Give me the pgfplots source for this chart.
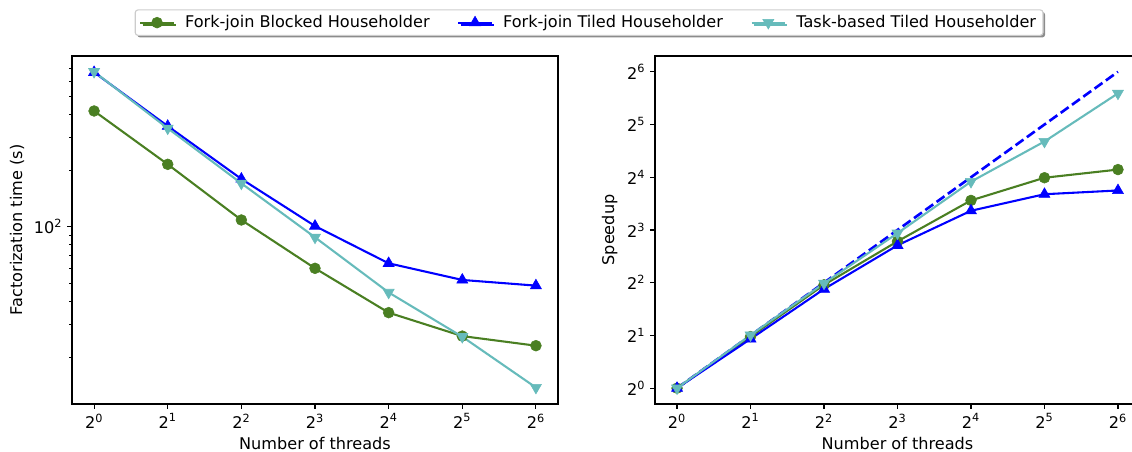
\documentclass[border=0pt]{standalone}
\usepackage{pgfplots}
\pgfplotsset{compat=1.18}
\usepackage{fontspec}
\setmainfont{DejaVu Sans}
\usetikzlibrary{shadows}
\definecolor{cgreen}{HTML}{4A7F22}
\definecolor{ccyan}{HTML}{66BBBB}
\definecolor{cblue}{HTML}{0000FF}
\newcommand{\fs}{\fontsize{11.6}{13.5}\selectfont}
\pgfplotsset{
  myaxis/.style={
    scale only axis,
    xmin=0.8123, xmax=78.79,
    xtick={1,2,4,8,16,32,64},
    xticklabels={2\textsuperscript{0},2\textsuperscript{1},2\textsuperscript{2},2\textsuperscript{3},2\textsuperscript{4},2\textsuperscript{5},2\textsuperscript{6}},
    xtick pos=lower, ytick pos=left,
    tick align=outside,
    major tick length=3.5pt, minor tick length=2pt,
    every tick/.style={black, line width=0.8pt},
    minor tick style={black, line width=0.6pt},
    axis line style={line width=0.8pt},
    font=\fs,
    tick label style={font=\fs},
    xlabel={Number of threads},
    xlabel style={yshift=0.5pt},
    legend image code/.code={\draw[mark repeat=2,mark phase=2] plot coordinates {(0cm,0cm) (0.42cm,0cm) (0.84cm,0cm)};},
  },
  sgreen/.style={cgreen, line width=1.5pt, mark=*, mark size=3.9pt, mark options={solid, line width=0.4pt}},
  sblue/.style={cblue, line width=1.5pt, mark=triangle*, mark size=4.6pt, mark options={solid, line width=0.4pt}},
  scyan/.style={ccyan, line width=1.5pt, mark=triangle*, mark size=4.6pt, mark options={solid, line width=0.4pt, rotate=180}},
}
\begin{document}
\begin{tikzpicture}
\begin{axis}[xmode=log, log basis x=2, ymode=log, log basis y=10, myaxis,
  at={(51.84pt,34.56pt)}, anchor=south west,
  width=349.92pt, height=250.56pt,
  ymin=11.27, ymax=818,
  ytick={100}, yticklabels={10\textsuperscript{2}},
  minor ytick={20,30,40,50,60,70,80,90,200,300,400,500,600,700},
  ylabel={Factorization time (s)},
  legend columns=3,
  legend cell align=left,
  legend style={at={(0.129,1.134)}, anchor=north west, draw=black!20, line width=0.8pt, fill=white, rounded corners=2pt,
    drop shadow={shadow xshift=1.5pt, shadow yshift=-1.5pt, fill=black!45, opacity=1},
    font=\fs, inner xsep=3pt, inner ysep=2pt,
    /tikz/every odd column/.append style={column sep=5.5pt},
    /tikz/every even column/.append style={column sep=18pt}},
]
\addplot[sgreen] coordinates {(1,415.6)(2,215.5)(4,108.6)(8,59.9)(16,34.7)(32,26.0)(64,23.1)};
\addlegendentry{Fork-join Blocked Householder}
\addplot[sblue] coordinates {(1,669)(2,345)(4,180)(8,100.8)(16,63.7)(32,51.9)(64,48.4)};
\addlegendentry{Fork-join Tiled Householder}
\addplot[scyan] coordinates {(1,674)(2,336)(4,170.5)(8,87.7)(16,44.5)(32,25.8)(64,13.8)};
\addlegendentry{Task-based Tiled Householder}
\end{axis}
\begin{axis}[xmode=log, log basis x=2, ymode=log, log basis y=2, myaxis,
  at={(471.6pt,34.56pt)}, anchor=south west,
  width=349.2pt, height=250.56pt,
  ymin=0.8123, ymax=78.79,
  ytick={1,2,4,8,16,32,64},
  yticklabels={2\textsuperscript{0},2\textsuperscript{1},2\textsuperscript{2},2\textsuperscript{3},2\textsuperscript{4},2\textsuperscript{5},2\textsuperscript{6}},
  minor ytick={},
  ylabel={Speedup},
]
\addplot[cblue, line width=1.9pt, dash pattern=on 7pt off 3pt, forget plot] coordinates {(1,1)(2,2)(4,4)(8,8)(16,16)(32,32)(64,64)};
\addplot[sgreen] coordinates {(1,1)(2,1.97)(4,3.89)(8,6.89)(16,11.8)(32,15.9)(64,17.7)};
\addplot[sblue] coordinates {(1,1)(2,1.91)(4,3.68)(8,6.54)(16,10.3)(32,12.8)(64,13.45)};
\addplot[scyan] coordinates {(1,1)(2,2.01)(4,3.97)(8,7.67)(16,15.1)(32,25.6)(64,48.2)};
\end{axis}
\pgfresetboundingbox
\useasboundingbox (0,0) rectangle (815.04pt,325.44pt);
\end{tikzpicture}
\end{document}
